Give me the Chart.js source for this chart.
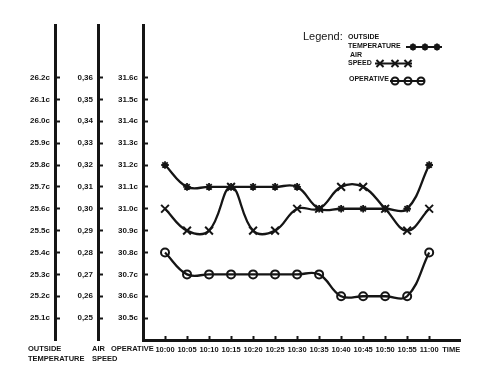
<!DOCTYPE html>
<html>
<head>
<meta charset="utf-8">
<title>Outside temperature, air speed and operative temperature</title>
<script src="https://cdn.jsdelivr.net/npm/chart.js@4/dist/chart.umd.min.js"></script>
<style>
    html, body { margin: 0; padding: 0; background: #fff; }
    canvas { display: block; }
</style>
</head>
<body>
<canvas id="chart" width="480" height="379"></canvas>
<script>
// readings every 5 minutes
const timeLabels = ['10:00', '10:05', '10:10', '10:15', '10:20', '10:25', '10:30',
    '10:35', '10:40', '10:45', '10:50', '10:55', '11:00'];
const outsideTemp = [25.8, 25.7, 25.7, 25.7, 25.7, 25.7, 25.7, 25.6, 25.6, 25.6, 25.6, 25.6, 25.8];
const airSpeed = [0.30, 0.29, 0.29, 0.31, 0.29, 0.29, 0.30, 0.30, 0.31, 0.31, 0.30, 0.29, 0.30];
const operative = [30.8, 30.7, 30.7, 30.7, 30.7, 30.7, 30.7, 30.7, 30.6, 30.6, 30.6, 30.6, 30.8];

// labelled ticks on the three vertical axes
const outsideTicks = [25.1, 25.2, 25.3, 25.4, 25.5, 25.6, 25.7, 25.8, 25.9, 26.0, 26.1, 26.2];
const airTicks = [0.25, 0.26, 0.27, 0.28, 0.29, 0.30, 0.31, 0.32, 0.33, 0.34, 0.35, 0.36];
const operativeTicks = [30.5, 30.6, 30.7, 30.8, 30.9, 31.0, 31.1, 31.2, 31.3, 31.4, 31.5, 31.6];
const timeAxisTitle = 'TIME';

const INK = '#151515';
const tickFont = { family: 'Arial, "Liberation Sans", sans-serif', size: 8, weight: 'bold' };

const toPoints = (values) => values.map((v, i) => ({ x: i, y: v }));

/**
 * Builds one of the left value axes
 */
function valueAxis(weight, min, max, ticks, width, format) {
    return {
        type: 'linear',
        position: 'left',
        weight: weight,
        min: min,
        max: max,
        border: { display: true, color: INK, width: 3 },
        grid: {
            drawOnChartArea: false,
            drawTicks: true,
            tickLength: -5,
            tickWidth: 2,
            tickColor: INK
        },
        ticks: {
            color: INK,
            font: tickFont,
            padding: 10,
            autoSkip: false,
            callback: format
        },
        afterBuildTicks: (scale) => {
            scale.ticks = ticks.map(v => ({ value: v }));
        },
        afterFit: (scale) => {
            scale.width = width;
        }
    };
}

// axis captions under the vertical axes and the legend box
const notesPlugin = {
    id: 'notes',
    afterDraw(chart) {
        const { ctx, scales } = chart;
        const row1 = scales.x.top + 9;
        const row2 = row1 + 10;

        ctx.save();
        ctx.fillStyle = INK;
        ctx.strokeStyle = INK;
        ctx.textBaseline = 'middle';
        ctx.textAlign = 'left';
        ctx.font = 'bold 7.5px Arial, "Liberation Sans", sans-serif';

        ctx.fillText('OUTSIDE', scales.yOut.right - 27, row1);
        ctx.fillText('TEMPERATURE', scales.yOut.right - 27, row2);
        ctx.fillText('AIR', scales.yAir.right - 6, row1);
        ctx.fillText('SPEED', scales.yAir.right - 6, row2);
        ctx.fillText('OPERATIVE', scales.yOp.left + 13, row1);

        // legend
        ctx.font = '11px Arial, "Liberation Sans", sans-serif';
        ctx.fillText('Legend:', 303, 37);
        ctx.font = 'bold 7px Arial, "Liberation Sans", sans-serif';
        ctx.fillText('OUTSIDE', 348, 37.5);
        ctx.fillText('TEMPERATURE', 348, 46);
        ctx.fillText('AIR', 350, 55);
        ctx.fillText('SPEED', 348, 63.5);
        ctx.fillText('OPERATIVE', 349, 79.5);

        const drawPoint = Chart.helpers && Chart.helpers.drawPoint;
        const sample = (x0, x1, y, style, radius, width, marks) => {
            ctx.lineWidth = 2;
            ctx.beginPath();
            ctx.moveTo(x0, y);
            ctx.lineTo(x1, y);
            ctx.stroke();
            if (!drawPoint) return;
            marks.forEach(x => {
                drawPoint(ctx, { pointStyle: style, radius: radius, rotation: 0, borderWidth: width }, x, y);
            });
        };
        sample(406, 442, 47, 'star', 3.5, 1.8, [413, 425, 437]);
        ctx.fillStyle = 'rgba(0,0,0,0)';
        sample(375, 412, 63.5, 'crossRot', 5, 2, [380, 395, 408]);
        sample(390, 425, 81, 'circle', 3.5, 2, [395, 408, 421]);
        ctx.restore();
    }
};

const lineStyle = {
    borderColor: INK,
    borderWidth: 2.3,
    tension: 0.4,
    fill: false,
    pointBorderColor: INK,
    pointBorderWidth: 2
};

new Chart(document.getElementById('chart'), {
    type: 'line',
    data: {
        datasets: [
            {
                ...lineStyle,
                label: 'OUTSIDE TEMPERATURE',
                data: toPoints(outsideTemp),
                yAxisID: 'yOut',
                pointStyle: 'star',
                pointRadius: 3.8,
                pointBackgroundColor: INK,
                pointBorderWidth: 1.8
            },
            {
                ...lineStyle,
                label: 'AIR SPEED',
                data: toPoints(airSpeed),
                yAxisID: 'yAir',
                pointStyle: 'crossRot',
                pointRadius: 5.5,
                pointBackgroundColor: 'rgba(0,0,0,0)'
            },
            {
                ...lineStyle,
                label: 'OPERATIVE',
                data: toPoints(operative),
                yAxisID: 'yOp',
                pointStyle: 'circle',
                pointRadius: 4,
                pointBackgroundColor: 'rgba(0,0,0,0)'
            }
        ]
    },
    options: {
        responsive: false,
        animation: false,
        layout: { padding: { top: 25, right: 20, left: 0, bottom: 0 } },
        plugins: {
            legend: { display: false },
            tooltip: { enabled: false }
        },
        scales: {
            x: {
                type: 'linear',
                position: 'bottom',
                min: -1,
                max: 13.4,
                border: { display: true, color: INK, width: 3 },
                grid: {
                    drawOnChartArea: false,
                    tickLength: -4,
                    tickWidth: 2,
                    tickColor: (c) => (c.index === timeLabels.length ? 'rgba(0,0,0,0)' : INK)
                },
                ticks: {
                    color: INK,
                    font: { family: tickFont.family, size: 7.5, weight: 'bold' },
                    padding: 9,
                    autoSkip: false,
                    maxRotation: 0,
                    callback: (v) => (v < timeLabels.length ? timeLabels[v] : timeAxisTitle)
                },
                afterBuildTicks: (scale) => {
                    scale.ticks = timeLabels.concat([timeAxisTitle]).map((_, i) => ({ value: i }));
                },
                afterFit: (scale) => {
                    scale.height = 39;
                }
            },
            yOut: valueAxis(3, 25.0, 26.44, outsideTicks, 55, (v) => v.toFixed(1) + 'c'),
            yAir: valueAxis(2, 0.24, 0.384, airTicks, 43, (v) => v.toFixed(2).replace('.', ',')),
            yOp: valueAxis(1, 30.4, 31.84, operativeTicks, 45, (v) => v.toFixed(1) + 'c')
        }
    },
    plugins: [notesPlugin]
});
</script>
</body>
</html>
